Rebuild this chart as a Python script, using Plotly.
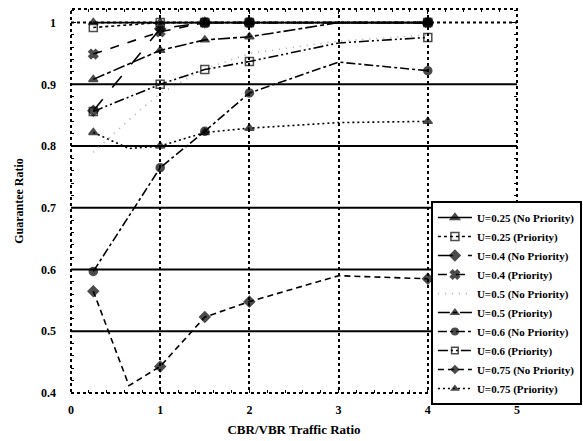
import plotly.graph_objects as go

# ---- data ----
names = [
    "U=0.25 (No Priority)", "U=0.25 (Priority)",
    "U=0.4 (No Priority)", "U=0.4 (Priority)",
    "U=0.5 (No Priority)", "U=0.5 (Priority)",
    "U=0.6 (No Priority)", "U=0.6 (Priority)",
    "U=0.75 (No Priority)", "U=0.75 (Priority)",
]
x_u025_np = [0.25, 1, 1.5, 2, 4]
y_u025_np = [1.0, 1.0, 1.0, 1.0, 1.0]
x_u025_p = [0.25, 1, 1.5, 2, 4]
y_u025_p = [0.992, 1.0, 1.0, 1.0, 1.0]
x_u04_np = [0.25, 1, 1.5, 2, 4]
y_u04_np = [0.857, 0.99, 1.0, 1.0, 1.0]
x_u04_p = [0.25, 1, 1.5, 2, 4]
y_u04_p = [0.949, 0.985, 1.0, 1.0, 1.0]
x_u05_np = [0.25, 0.77, 1, 1.5, 2, 3, 4]
y_u05_np = [0.79, 0.858, 0.885, 0.925, 0.95, 0.97, 0.98]
x_u05_p = [0.25, 1, 1.5, 2, 3, 4]
y_u05_p = [0.908, 0.955, 0.972, 0.977, 1.0, 1.0]
x_u06_np = [0.25, 1, 1.5, 2, 3, 4]
y_u06_np = [0.597, 0.765, 0.824, 0.886, 0.936, 0.922]
x_u06_p = [0.25, 1, 1.5, 2, 3, 4]
y_u06_p = [0.856, 0.90, 0.924, 0.937, 0.967, 0.976]
x_u075_np = [0.25, 0.65, 1, 1.5, 2, 3, 4]
y_u075_np = [0.565, 0.412, 0.443, 0.523, 0.548, 0.59, 0.585]
x_u075_p = [0.25, 0.65, 1, 1.5, 2, 3, 4]
y_u075_p = [0.822, 0.796, 0.80, 0.822, 0.829, 0.838, 0.84]

xs = [x_u025_np, x_u025_p, x_u04_np, x_u04_p, x_u05_np, x_u05_p,
      x_u06_np, x_u06_p, x_u075_np, x_u075_p]
ys = [y_u025_np, y_u025_p, y_u04_np, y_u04_p, y_u05_np, y_u05_p,
      y_u06_np, y_u06_p, y_u075_np, y_u075_p]

x_ticks = [0, 1, 2, 3, 4, 5]
y_ticks = [0.4, 0.5, 0.6, 0.7, 0.8, 0.9, 1.0]
y_ticktext = ["0.4", "0.5", "0.6", "0.7", "0.8", "0.9", "1"]
solid_grid = [0.5, 0.6, 0.7, 0.8, 0.9]
dotted_grid = [1.0]
marked_x = {0.25, 1, 1.5, 2, 4}

# ---- styles ----
styles = [
    dict(dash="solid", symbol="triangle-up", color="black"),
    dict(dash="dot", symbol="square-open", color="black"),
    dict(dash="longdash", symbol="diamond", color="black"),
    dict(dash="dash", symbol="x", color="black"),
    dict(dash="1px,6px", symbol=None, color="#aaaaaa"),
    dict(dash="12px,3px,4px,3px", symbol="triangle-up", color="black"),
    dict(dash="dashdot", symbol="circle", color="black"),
    dict(dash="10px,3px,2px,3px,2px,3px", symbol="square-open", color="black"),
    dict(dash="6px,4px", symbol="diamond", color="black"),
    dict(dash="2px,3px", symbol="triangle-up", color="black"),
]

fig = go.Figure()
for name, x, y, st in zip(names, xs, ys, styles):
    sizes = [8 if xv in marked_x else 0 for xv in x]
    if st["symbol"] is None:
        mode = "lines"
        marker = None
    else:
        mode = "lines+markers"
        marker = dict(symbol=st["symbol"], size=sizes, color=st["color"],
                      line=dict(color=st["color"], width=1.5))
    fig.add_trace(go.Scatter(
        x=x, y=y, name=name, mode=mode,
        line=dict(color=st["color"], width=1.6, dash=st["dash"]),
        marker=marker,
    ))

shapes = []
for g in solid_grid:
    shapes.append(dict(type="line", xref="x domain", yref="y", x0=0, x1=1,
                       y0=g, y1=g, line=dict(color="black", width=2), layer="below"))
for g in dotted_grid:
    shapes.append(dict(type="line", xref="x domain", yref="y", x0=0, x1=1,
                       y0=g, y1=g, line=dict(color="black", width=2, dash="dot"),
                       layer="below"))
shapes.append(dict(type="rect", xref="x domain", yref="y domain", x0=0, x1=1,
                   y0=0, y1=1, line=dict(color="black", width=2, dash="dot"),
                   layer="above"))

font_family = "Liberation Serif"
fig.update_layout(
    width=583, height=441,
    margin=dict(l=71, r=66, t=9, b=48, autoexpand=False),
    paper_bgcolor="white", plot_bgcolor="white",
    font=dict(family=font_family, size=11, color="black", weight="bold"),
    shapes=shapes,
    showlegend=True,
    legend=dict(x=0.807, y=0.50, xanchor="left", yanchor="top",
                bgcolor="white", bordercolor="black", borderwidth=2,
                font=dict(family=font_family, size=11, color="black", weight="bold"),
                itemwidth=34, tracegroupgap=0),
    xaxis=dict(range=[0, 5], tickvals=x_ticks, ticks="inside", ticklen=5,
               tickcolor="black", mirror="allticks", showline=False,
               showgrid=True, gridcolor="black", gridwidth=2, griddash="dot",
               zeroline=False, ticklabelstandoff=8,
               tickfont=dict(size=12, weight="bold"),
               minor=dict(dtick=0.2, ticks="inside", ticklen=3, tickcolor="black",
                          showgrid=False),
               title=dict(text="CBR/VBR Traffic Ratio", standoff=8,
                          font=dict(size=13, weight="bold"))),
    yaxis=dict(range=[0.4, 1.022], tickvals=y_ticks, ticktext=y_ticktext,
               ticks="inside", ticklen=5, tickcolor="black", mirror="allticks",
               showline=False, showgrid=False, zeroline=False,
               ticklabelstandoff=14, tickfont=dict(size=12, weight="bold"),
               minor=dict(dtick=0.02, ticks="inside", ticklen=3, tickcolor="black",
                          showgrid=False),
               title=dict(text="Guarantee Ratio", standoff=14,
                          font=dict(size=12, weight="bold"))),
)

fig.write_html("out.html")
